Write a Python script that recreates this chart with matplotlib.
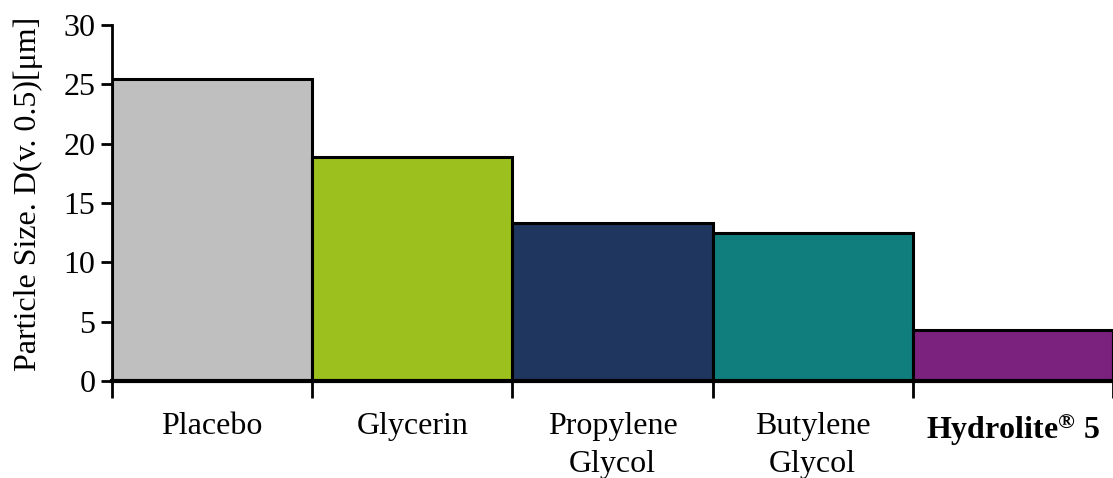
import matplotlib
matplotlib.use('Agg')
import matplotlib.pyplot as plt
import numpy as np

categories = ['Placebo', 'Glycerin', 'Propylene\nGlycol', 'Butylene\nGlycol', 'Hydrolite$^{®}$ 5']
values = [25.45, 18.9, 13.35, 12.5, 4.3]
colors = ['#bfbfbf', '#9cc11e', '#1f365f', '#107e7d', '#7b217e']

plt.rcParams['font.family'] = ['Liberation Serif', 'DejaVu Serif']
plt.rcParams['mathtext.fontset'] = 'custom'
plt.rcParams['mathtext.rm'] = 'Liberation Serif:bold'
plt.rcParams['mathtext.it'] = 'Liberation Serif:bold'

fig = plt.figure(figsize=(11.13, 4.78), dpi=100)
ax = fig.add_axes([112/1113, 1 - 381/478, 1001/1113, 356/478])

x = np.arange(len(values))
ax.bar(x, values, width=1.0, color=colors, edgecolor='black', linewidth=2.2)

ax.set_xlim(-0.5, 4.5)
ax.set_ylim(0, 30)
ax.set_yticks(np.arange(0, 31, 5))
ax.tick_params(axis='y', labelsize=23, length=8, width=2, direction='out', pad=4)

# boundaries as major ticks, labels centred on bars as minor ticks
ax.set_xticks(np.arange(-0.5, 5.0, 1.0))
ax.set_xticklabels([])
ax.tick_params(axis='x', which='major', length=12, width=2, direction='out')
ax.set_xticks(x, minor=True)
ax.set_xticklabels(categories, minor=True, fontsize=23, linespacing=1.45, va='top')
ax.tick_params(axis='x', which='minor', length=0, pad=22)
for lab in ax.get_xticklabels(minor=True):
    if 'Hydrolite' in lab.get_text():
        lab.set_fontweight('bold')

ax.spines['top'].set_visible(False)
ax.spines['right'].set_visible(False)
ax.spines['left'].set_linewidth(2)
ax.spines['bottom'].set_linewidth(3)

ax.set_ylabel('Particle Size. D(v. 0.5)[μm]', fontsize=23)
ax.yaxis.set_label_coords(-0.069, 0.527)

fig.savefig('out.png', dpi=100)
